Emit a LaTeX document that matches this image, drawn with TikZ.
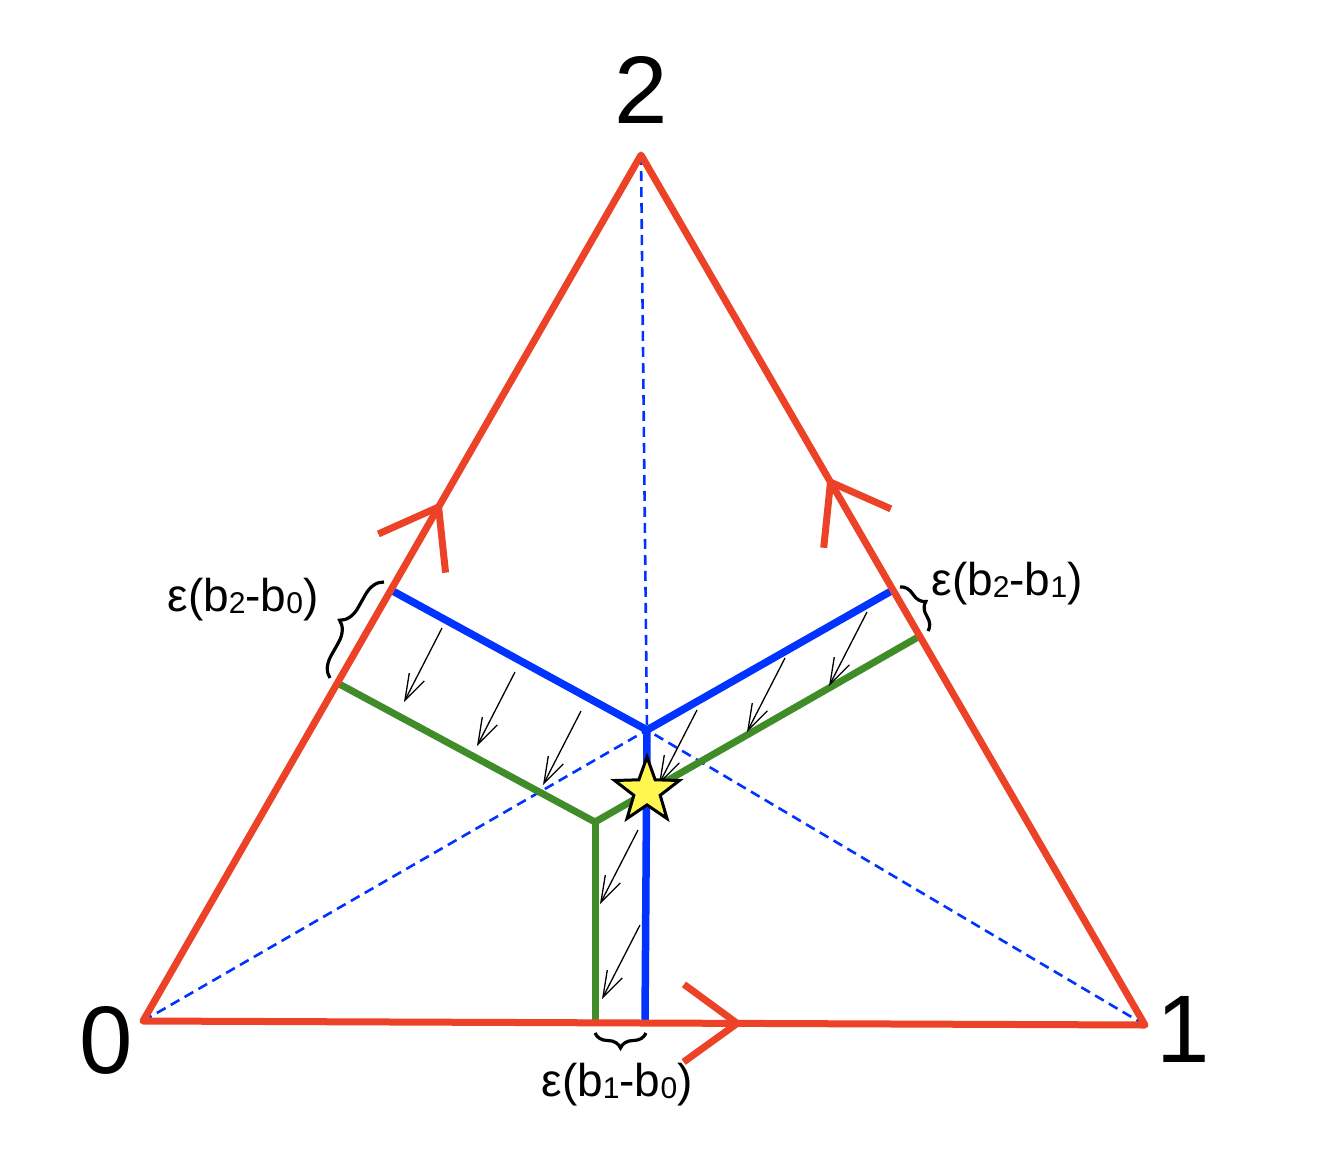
\documentclass[tikz,border=0pt]{standalone}
\usepackage{fontspec}
\setmainfont{Liberation Sans}
\usetikzlibrary{calc,arrows.meta,decorations.pathreplacing,shapes.geometric}
\definecolor{tred}{RGB}{236,66,40}
\definecolor{tblue}{RGB}{0,51,255}
\definecolor{tgreen}{RGB}{64,140,40}
\definecolor{tyellow}{RGB}{255,246,80}
\newcommand{\lowsub}[1]{\raisebox{-0.06em}{\fontsize{30}{30}\selectfont #1}}
\begin{document}
\begin{tikzpicture}[x=1pt,y=-1pt,
  redline/.style={draw=tred,line width=7pt,line join=round},
  chevron/.style={draw=tred,line width=7pt,line join=miter},
  blueline/.style={draw=tblue,line width=7.5pt},
  greenline/.style={draw=tgreen,line width=7pt},
  dashline/.style={draw=tblue,line width=2.6pt,dash pattern=on 10pt off 6pt},
  thinarrow/.style={draw=black,line width=1.3pt,-{Straight Barb[length=26pt,width=17pt,line width=1.3pt]}},
  bracestyle/.style={draw=black,line width=3.2pt,decorate},
  vlab/.style={font=\fontsize{96}{96}\selectfont,inner sep=0pt},
  elab/.style={font=\fontsize{46}{46}\selectfont,inner sep=0pt,anchor=base}]
\useasboundingbox (0,0) rectangle (1340,1162);
% vertices
\coordinate (v0) at (143,1021);
\coordinate (v1) at (1145,1025);
\coordinate (v2) at (641,155);
\coordinate (c) at (647,730);
\coordinate (g) at (595,822);
\coordinate (bl) at ($(v0)!0.4977!(v2)$);
\coordinate (br) at ($(v1)!0.5!(v2)$);
\coordinate (bb) at (645,1022);
\coordinate (gl) at ($(v0)!0.3903!(v2)$);
\coordinate (gr) at ($(v1)!0.447!(v2)$);
\coordinate (gb) at (595,1022);
% dashed medians
\draw[dashline] (v0) -- (c);
\draw[dashline] (v1) -- (c);
\draw[dashline] (v2) -- (c);
% blue and green
\draw[greenline] (gl) -- (g) -- (gr);
\draw[greenline] (g) -- (gb);
\draw[blueline] (bl) -- (c) -- (br);
\draw[blueline] (c) -- (bb);
% thin arrows
\foreach \sx/\sy in {442/628,515/672,581/711,697/710,785/658,867/612,638/830,640/925}
  \draw[thinarrow] (\sx,\sy) -- ++(-38,74);
% star
\node[star,star points=5,star point ratio=2.45,minimum size=68pt,inner sep=0pt,
      fill=tyellow,draw=black,line width=3pt] (star) at (647,791) {};
% triangle
\draw[redline] (v0) -- (v1) -- (v2) -- cycle;
% chevrons
\coordinate (t1) at ($(v0)!0.5935!(v2)$);
\coordinate (t2) at ($(v1)!0.624!(v2)$);
\coordinate (t3) at ($(v0)!0.593!(v1)$);
\draw[chevron] ($(t1)!66pt!36:(v0)$) -- (t1) -- ($(t1)!66pt!-36:(v0)$);
\draw[chevron] ($(t2)!66pt!36:(v1)$) -- (t2) -- ($(t2)!66pt!-36:(v1)$);
\draw[chevron] ($(t3)!66pt!36:(v0)$) -- (t3) -- ($(t3)!66pt!-36:(v0)$);
% braces
\draw[bracestyle,decoration={brace,amplitude=20pt}] (330,678) -- (384,582);
\draw[bracestyle,decoration={brace,amplitude=14pt}] (900,587) -- (928,631);
\draw[bracestyle,decoration={brace,amplitude=15pt}] (646,1033) -- (595,1033);
% labels
\node[vlab] (n2) at (641,90) {2};
\node[vlab] (n0) at (106,1040) {0};
\node[vlab] (n1) at (1183,1029) {1};
\node[elab] (l20) at (243,611) {ε(b\lowsub{2}-b\lowsub{0})};
\node[elab] (l21) at (1007,595) {ε(b\lowsub{2}-b\lowsub{1})};
\node[elab] (l10) at (617,1096) {ε(b\lowsub{1}-b\lowsub{0})};
\end{tikzpicture}
\end{document}
